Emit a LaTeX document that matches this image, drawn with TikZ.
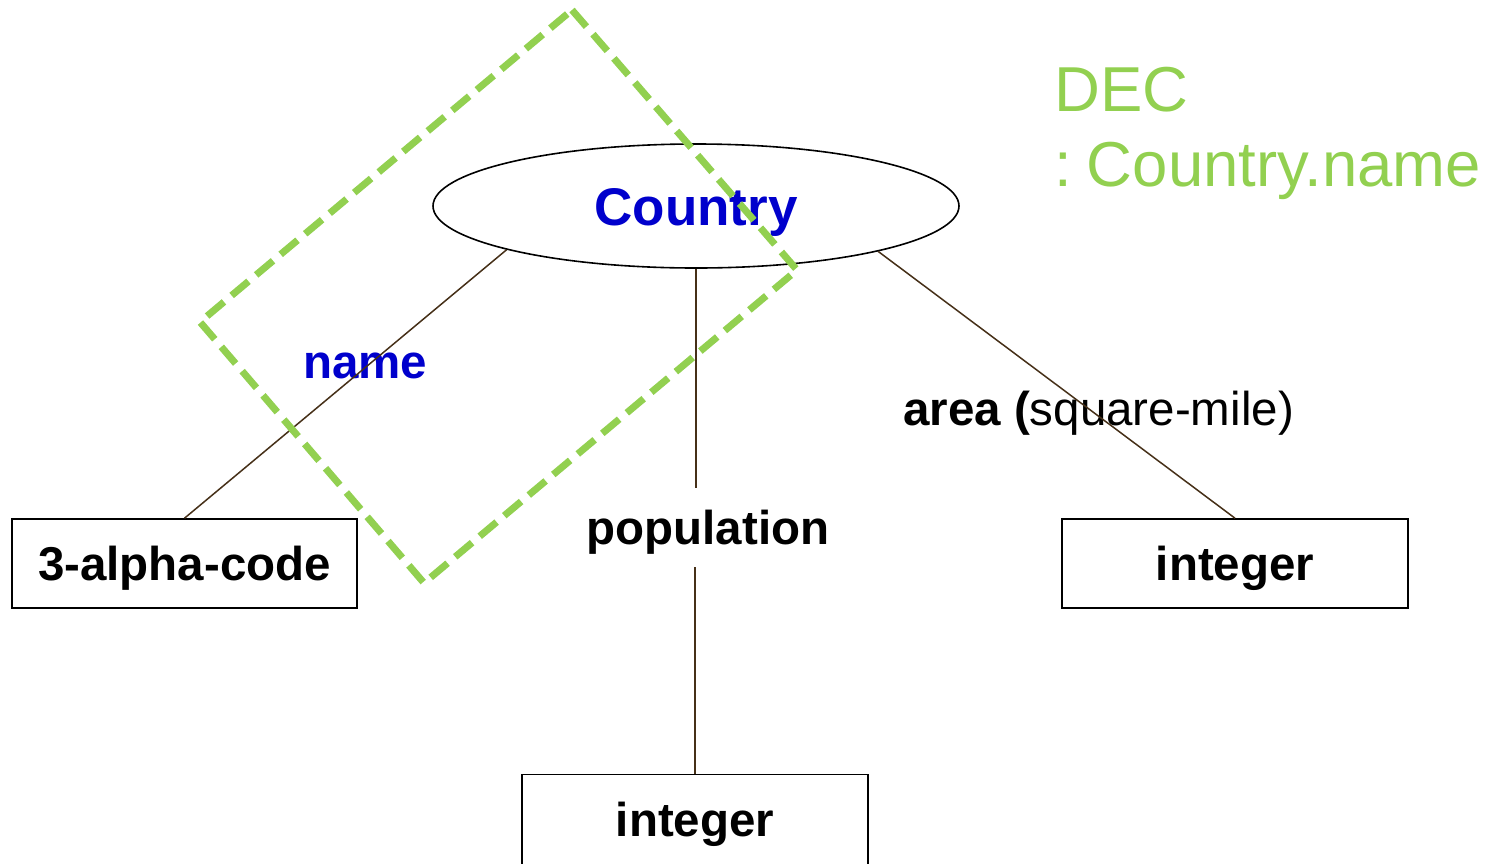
\documentclass[tikz,border=0pt]{standalone}
\usepackage{fontspec}
\setmainfont{Liberation Sans}
\usetikzlibrary{shapes.geometric}
\definecolor{entblue}{RGB}{0,0,204}
\definecolor{decgreen}{RGB}{146,208,80}
\definecolor{linkbrown}{RGB}{70,48,24}
\tikzset{
  lbl/.style={font=\fontsize{47.5}{57}\selectfont\bfseries, inner sep=0pt},
  entity/.style={ellipse, draw=black, line width=1.6pt, minimum width=526pt, minimum height=124pt, inner sep=0pt,
     text=entblue, font=\fontsize{53}{64}\selectfont\bfseries, text height=38pt, text depth=0pt},
  valbox/.style={rectangle, draw=black, line width=1.6pt, minimum width=345pt, minimum height=89pt, inner sep=0pt,
     font=\fontsize{47.5}{57}\selectfont\bfseries, text height=34pt, text depth=0pt},
  link/.style={draw=linkbrown, line width=1.5pt},
  decbox/.style={draw=decgreen, line width=7pt, dash pattern=on 22pt off 10pt},
  dectext/.style={text=decgreen, font=\fontsize{63.5}{76}\selectfont, inner sep=0pt, anchor=base west}
}
\begin{document}
\begin{tikzpicture}[x=1pt,y=-1pt]
\useasboundingbox (0,0) rectangle (1492,863);
% entity and value boxes
\node[entity] (country) at (696,206) {Country};
\node[valbox] (code) at (184.5,563.5) {3-alpha-code};
\node[valbox, minimum width=346pt] (intR) at (1235,563.5) {integer};
\node[valbox, minimum width=346pt, minimum height=100pt, text depth=10pt] (intB) at (695,824.5) {integer};
% labels
\node[lbl, text=entblue, anchor=base west] (name) at (303,378) {name};
\node[lbl, minimum height=79pt, text height=34pt, text depth=0pt] (pop) at (708,527.5) {population};
\node[lbl, anchor=base west] (area) at (903,425) {area (\mdseries square-mile)};
% connectors
\draw[link] (country.193.6) -- (code.north);
\draw[link] (country.south) -- (country.south |- pop.north);
\draw[link] (pop.south -| intB.north) -- (intB.north);
\draw[link] (country.346.4) -- (intR.north);
% DEC annotation
\draw[decbox] (572,10) -- (797,270) -- (424,583) -- (200,322) -- cycle;
\node[dectext] (dec1) at (1054,111) {DEC};
\node[dectext] (dec2) at (1054,186) {:\kern 15pt Country.name};
\end{tikzpicture}
\end{document}
